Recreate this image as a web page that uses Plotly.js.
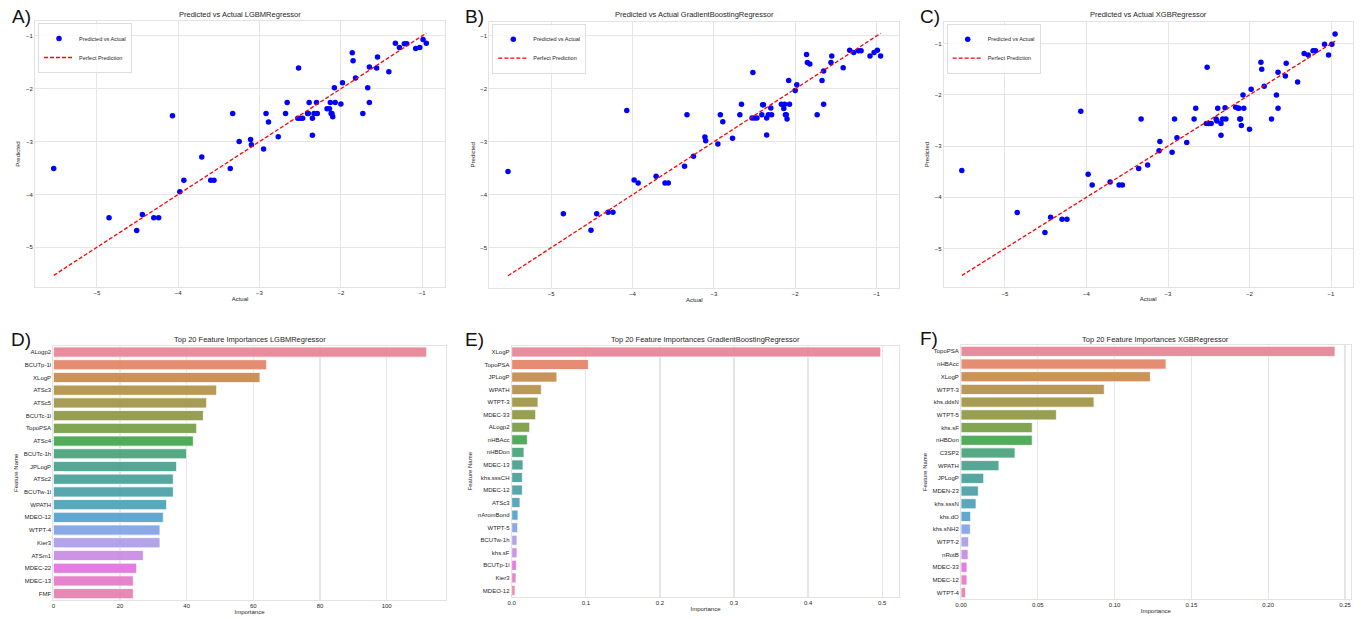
<!DOCTYPE html>
<html>
<head>
<meta charset="utf-8">
<script src="https://cdn.plot.ly/plotly-3.0.1.min.js"></script>
<style>
  html, body { margin: 0; padding: 0; background: #ffffff; }
  #chart { width: 1361px; height: 619px; }
</style>
</head>
<body>
<div id="chart"></div>
<script>
// ---------------- DATA ----------------
const modelNames = ["LGBMRegressor", "GradientBoostingRegressor", "XGBRegressor"];
const panelLabels = ["A)", "B)", "C)", "D)", "E)", "F)"];

const actualValues = [-5.53, -4.85, -4.51, -4.44, -4.30, -4.24, -4.07, -3.98, -3.93, -3.71,
  -3.60, -3.56, -3.36, -3.33, -3.25, -3.11, -3.10, -2.95, -2.92, -2.89,
  -2.77, -2.68, -2.66, -2.52, -2.53, -2.50, -2.47, -2.41, -2.39, -2.40,
  -2.35, -2.35, -2.33, -2.30, -2.29, -2.17, -2.14, -2.13, -2.12, -2.11,
  -2.10, -2.08, -2.07, -2.00, -1.98, -1.86, -1.85, -1.82, -1.73, -1.67,
  -1.65, -1.65, -1.56, -1.55, -1.41, -1.33, -1.28, -1.22, -1.19, -1.08,
  -1.03, -0.99, -0.95];

const predLGBM = [-3.51, -4.44, -4.68, -4.38, -4.44, -4.44, -2.51, -3.95, -3.73, -3.29,
  -3.73, -3.73, -3.51, -2.47, -3.00, -2.96, -3.06, -3.14, -2.47, -2.63,
  -2.91, -2.47, -2.26, -1.61, -2.56, -2.56, -2.56, -2.47, -2.26, -2.47,
  -2.56, -2.88, -2.47, -2.26, -2.47, -2.38, -2.38, -2.26, -2.47, -2.47,
  -2.53, -1.98, -2.26, -2.29, -1.89, -1.32, -1.47, -1.80, -2.47, -1.98,
  -2.26, -1.59, -1.61, -1.40, -1.68, -1.14, -1.22, -1.15, -1.15, -1.24,
  -1.22, -1.07, -1.14];

const predGB = [-3.56, -4.36, -4.67, -4.36, -4.33, -4.33, -2.41, -3.72, -3.78, -3.65,
  -3.78, -3.78, -3.46, -2.49, -3.27, -2.91, -2.98, -3.04, -2.49, -2.62,
  -2.93, -2.49, -2.29, -1.69, -2.55, -2.55, -2.55, -2.49, -2.30, -2.30,
  -2.55, -2.87, -2.49, -2.36, -2.49, -2.29, -2.37, -2.29, -2.49, -2.49,
  -2.57, -1.84, -2.29, -2.03, -1.92, -1.35, -1.50, -1.53, -2.49, -1.84,
  -2.29, -1.66, -1.50, -1.38, -1.60, -1.27, -1.31, -1.28, -1.28, -1.38,
  -1.31, -1.27, -1.38];

const predXGB = [-3.48, -4.30, -4.69, -4.39, -4.43, -4.43, -2.32, -3.55, -3.76, -3.70,
  -3.76, -3.76, -3.44, -2.47, -3.37, -3.09, -2.91, -3.12, -2.47, -2.84,
  -2.93, -2.47, -2.26, -1.46, -2.56, -2.56, -2.56, -2.47, -2.26, -2.51,
  -2.56, -2.79, -2.47, -2.25, -2.47, -2.24, -2.26, -2.26, -2.47, -2.47,
  -2.60, -2.00, -2.26, -2.67, -1.89, -1.36, -1.50, -1.83, -2.47, -2.00,
  -2.26, -1.56, -1.63, -1.38, -1.75, -1.19, -1.22, -1.14, -1.14, -1.01,
  -1.22, -1.01, -0.81];

const featLGBM = ["ALogp2", "BCUTp-1l", "XLogP", "ATSc3", "ATSc5", "BCUTc-1l", "TopoPSA", "ATSc4",
  "BCUTc-1h", "JPLogP", "ATSc2", "BCUTw-1l", "WPATH", "MDEO-12", "WTPT-4", "Kier3", "ATSm1",
  "MDEC-22", "MDEC-13", "FMF"];
const impLGBM = [112, 64, 62, 49, 46, 45, 43, 42, 40, 37, 36, 36, 34, 33, 32, 32, 27, 25, 24, 24];

const featGB = ["XLogP", "TopoPSA", "JPLogP", "WPATH", "WTPT-3", "MDEC-33", "ALogp2", "nHBAcc",
  "nHBDon", "MDEC-13", "khs.sssCH", "MDEC-12", "ATSc3", "nAromBond", "WTPT-5", "BCUTw-1h",
  "khs.sF", "BCUTp-1l", "Kier3", "MDEO-12"];
const impGB = [0.498, 0.1035, 0.061, 0.040, 0.0355, 0.0324, 0.0243, 0.0211, 0.0166, 0.0153,
  0.0144, 0.0144, 0.0112, 0.0085, 0.0081, 0.0072, 0.0072, 0.0063, 0.0058, 0.0045];

const featXGB = ["TopoPSA", "nHBAcc", "XLogP", "WTPT-3", "khs.ddsN", "WTPT-5", "khs.sF", "nHBDon",
  "C3SP2", "WPATH", "JPLogP", "MDEN-23", "khs.sssN", "khs.dO", "khs.sNH2", "WTPT-2", "nRotB",
  "MDEC-33", "MDEC-12", "WTPT-4"];
const impXGB = [0.2435, 0.1335, 0.1233, 0.0933, 0.0866, 0.0621, 0.0464, 0.0464, 0.0352, 0.0247,
  0.0148, 0.0113, 0.0098, 0.0063, 0.0061, 0.0050, 0.0046, 0.0039, 0.0039, 0.0030];

// ---------------- seaborn-like husl palette (styling only) ----------------
const M = [[3.240969941904521, -1.537383177570093, -0.498610760293],
           [-0.96924363628087, 1.87596750150772, 0.041555057407175],
           [0.055630079696993, -0.20397695888897, 1.056971514242878]];
const refU = 0.19783000664283, refV = 0.46831999493879, kappa = 903.2962962, eps = 0.0088564516;
function getBounds(L) {
  const res = [];
  const sub1 = Math.pow(L + 16, 3) / 1560896;
  const sub2 = sub1 > eps ? sub1 : L / kappa;
  for (let c = 0; c < 3; c++) {
    const [m1, m2, m3] = M[c];
    for (let t = 0; t < 2; t++) {
      const top1 = (284517 * m1 - 94839 * m3) * sub2;
      const top2 = (838422 * m3 + 769860 * m2 + 731718 * m1) * L * sub2 - 769860 * t * L;
      const bottom = (632260 * m3 - 126452 * m2) * sub2 + 126452 * t;
      res.push([top1 / bottom, top2 / bottom]);
    }
  }
  return res;
}
function maxChroma(L, H) {
  const hr = H / 360 * 2 * Math.PI;
  let mn = Infinity;
  for (const [s, i] of getBounds(L)) {
    const len = i / (Math.sin(hr) - s * Math.cos(hr));
    if (len >= 0 && len < mn) mn = len;
  }
  return mn;
}
function husl2rgb(H, S, L) {
  const C = (L > 99.9999999 || L < 1e-8) ? 0 : maxChroma(L, H) / 100 * S;
  const hr = H / 360 * 2 * Math.PI;
  const U = Math.cos(hr) * C, V = Math.sin(hr) * C;
  if (L === 0) return [0, 0, 0];
  const vU = U / (13 * L) + refU, vV = V / (13 * L) + refV;
  const Y = L <= 8 ? L / kappa : Math.pow((L + 16) / 116, 3);
  const X = -(9 * Y * vU) / ((vU - 4) * vV - vU * vV);
  const Z = (9 * Y - 15 * vV * Y - vV * X) / (3 * vV);
  return M.map(r => {
    const c = r[0] * X + r[1] * Y + r[2] * Z;
    const v = c <= 0.0031308 ? 12.92 * c : 1.055 * Math.pow(c, 1 / 2.4) - 0.055;
    return Math.min(1, Math.max(0, v));
  });
}
function rgb2hls(r, g, b) {
  const mx = Math.max(r, g, b), mn = Math.min(r, g, b);
  const l = (mx + mn) / 2;
  if (mx === mn) return [0, l, 0];
  const d = mx - mn;
  const s = l <= 0.5 ? d / (mx + mn) : d / (2 - mx - mn);
  let h;
  if (mx === r) h = (g - b) / d + (g < b ? 6 : 0);
  else if (mx === g) h = (b - r) / d + 2;
  else h = (r - g) / d + 4;
  return [h / 6, l, s];
}
function hls2rgb(h, l, s) {
  if (s === 0) return [l, l, l];
  const q = l <= 0.5 ? l * (1 + s) : l + s - l * s;
  const p = 2 * l - q;
  const f = t => {
    t = ((t % 1) + 1) % 1;
    if (t < 1 / 6) return p + (q - p) * 6 * t;
    if (t < 0.5) return q;
    if (t < 2 / 3) return p + (q - p) * (2 / 3 - t) * 6;
    return p;
  };
  return [f(h + 1 / 3), f(h), f(h - 1 / 3)];
}
function huslPalette(n) {
  const out = [];
  for (let i = 0; i < n; i++) {
    const h = ((i / n + 0.01) % 1) * 359;
    const rgb = husl2rgb(h, 0.9 * 99, 0.65 * 99);
    const hls = rgb2hls(...rgb);
    const d = hls2rgb(hls[0], hls[1], hls[2] * 0.75);
    out.push('rgb(' + d.map(v => Math.round(v * 255)).join(',') + ')');
  }
  return out;
}

// ---------------- LAYOUT GEOMETRY ----------------
const W = 1361, H = 619;
const FONT = 'Liberation Sans, Arial, sans-serif';
const TXT = '#262626';
const GRID = '#e6e6e6';
const fx = px => px / W;
const fy = py => 1 - py / H;

// pixel boxes [left, right, top, bottom]
const boxes = [
  [35, 445, 21, 287],
  [489.3, 899.3, 21.7, 287.7],
  [943.7, 1352.7, 21.7, 287.3],
  [53.3, 445.7, 345.7, 600],
  [511.7, 899.3, 345.7, 596.7],
  [961, 1350.7, 345, 599]
];
const scatterRanges = [
  {x: [-5.76, -0.72], y: [-5.75, -0.72]},
  {x: [-5.76, -0.72], y: [-5.756, -0.73]},
  {x: [-5.752, -0.734], y: [-5.76, -0.57]}
];
const barRanges = [[0, 117.7], [0, 0.523], [0, 0.2537]];
const barTicks = [{dtick: 20, fmt: 'd'}, {dtick: 0.1, fmt: '.1f'}, {dtick: 0.05, fmt: '.2f'}];

const preds = [predLGBM, predGB, predXGB];
const feats = [featLGBM, featGB, featXGB];
const imps = [impLGBM, impGB, impXGB];

const traces = [];
const layout = {
  width: W, height: H,
  margin: {l: 0, r: 0, t: 0, b: 0},
  paper_bgcolor: '#ffffff',
  plot_bgcolor: '#ffffff',
  font: {family: FONT, color: TXT, size: 6},
  showlegend: true,
  annotations: [],
  bargap: 0.2
};

const tickFont = {family: FONT, size: 6, color: TXT};
const axTitleFont = {family: FONT, size: 6, color: TXT};

for (let k = 0; k < 3; k++) {
  const idx = k + 1;
  const xa = idx === 1 ? 'x' : 'x' + idx;
  const ya = idx === 1 ? 'y' : 'y' + idx;
  const legendId = idx === 1 ? 'legend' : 'legend' + idx;
  const b = boxes[k];
  const aMin = Math.min(...actualValues), aMax = Math.max(...actualValues);

  traces.push({
    type: 'scatter', mode: 'markers',
    x: actualValues, y: preds[k],
    xaxis: xa, yaxis: ya, legend: legendId,
    name: 'Predicted vs Actual',
    marker: {color: '#0000ff', size: 5.5}
  });
  traces.push({
    type: 'scatter', mode: 'lines',
    x: [aMin, aMax], y: [aMin, aMax],
    xaxis: xa, yaxis: ya, legend: legendId,
    name: 'Perfect Prediction',
    line: {color: '#ff0000', width: 1.3, dash: '4px,2px'}
  });

  const axBase = {
    showgrid: true, gridcolor: GRID, gridwidth: 1,
    zeroline: false, showline: true, linecolor: '#e3e3e3', linewidth: 1, mirror: true,
    ticks: '', tickfont: tickFont, dtick: 1, tick0: 0
  };
  layout['xaxis' + (idx === 1 ? '' : idx)] = Object.assign({}, axBase, {
    domain: [fx(b[0]), fx(b[1])], range: scatterRanges[k].x, anchor: ya,
    title: {text: 'Actual', font: axTitleFont, standoff: 1}
  });
  layout['yaxis' + (idx === 1 ? '' : idx)] = Object.assign({}, axBase, {
    domain: [fy(b[3]), fy(b[2])], range: scatterRanges[k].y, anchor: xa,
    title: {text: 'Predicted', font: axTitleFont, standoff: 4}
  });
  layout[legendId] = {
    x: fx(b[0] + 3), y: fy(b[2] + 2), xanchor: 'left', yanchor: 'top',
    bgcolor: 'rgba(255,255,255,0.8)', bordercolor: '#dddddd', borderwidth: 1,
    font: {family: FONT, size: 5.5, color: TXT},
    itemwidth: 30, tracegroupgap: 0
  };
  layout.annotations.push({
    xref: 'paper', yref: 'paper', x: fx((b[0] + b[1]) / 2), y: fy(14.7),
    xanchor: 'center', yanchor: 'middle', showarrow: false,
    text: 'Predicted vs Actual ' + modelNames[k],
    font: {family: FONT, size: 7.5, color: TXT}
  });
}

for (let k = 0; k < 3; k++) {
  const idx = k + 4;
  const xa = 'x' + idx, ya = 'y' + idx;
  const b = boxes[idx - 1];
  traces.push({
    type: 'bar', orientation: 'h',
    x: imps[k], y: feats[k],
    xaxis: xa, yaxis: ya,
    showlegend: false,
    opacity: 0.9,
    marker: {color: huslPalette(feats[k].length), line: {color: '#ffffff', width: 0.8}},
    hoverinfo: 'x+y'
  });
  layout['xaxis' + idx] = {
    domain: [fx(b[0]), fx(b[1])], range: barRanges[k], anchor: ya,
    showgrid: true, gridcolor: GRID, gridwidth: 1.3,
    zeroline: false, showline: true, linecolor: '#e3e3e3', linewidth: 1, mirror: true,
    ticks: '', tickfont: tickFont, dtick: barTicks[k].dtick, tick0: 0, tickformat: barTicks[k].fmt,
    title: {text: 'Importance', font: axTitleFont, standoff: 1}
  };
  layout['yaxis' + idx] = {
    domain: [fy(b[3]), fy(b[2])], anchor: xa,
    type: 'category', categoryorder: 'array', categoryarray: feats[k],
    range: [feats[k].length - 0.5, -0.5],
    showgrid: false, zeroline: false, showline: true, linecolor: '#e3e3e3', linewidth: 1, mirror: true,
    ticks: '', tickfont: tickFont,
    title: {text: 'Feature Name', font: axTitleFont, standoff: 4}
  };
  layout.annotations.push({
    xref: 'paper', yref: 'paper', x: fx((b[0] + b[1]) / 2), y: fy(339),
    xanchor: 'center', yanchor: 'middle', showarrow: false,
    text: 'Top 20 Feature Importances ' + modelNames[k],
    font: {family: FONT, size: 7.5, color: TXT}
  });
}

// panel letters
const labelPos = [[10, 16.5], [463, 16.5], [918, 16.5], [9, 340], [463, 340], [918, 338]];
panelLabels.forEach((t, i) => {
  layout.annotations.push({
    xref: 'paper', yref: 'paper', x: fx(labelPos[i][0]), y: fy(labelPos[i][1]),
    xanchor: 'left', yanchor: 'middle', showarrow: false,
    text: t, font: {family: FONT, size: 19, color: '#111111'}
  });
});

Plotly.newPlot('chart', traces, layout, {displayModeBar: false, staticPlot: true});
</script>
</body>
</html>
